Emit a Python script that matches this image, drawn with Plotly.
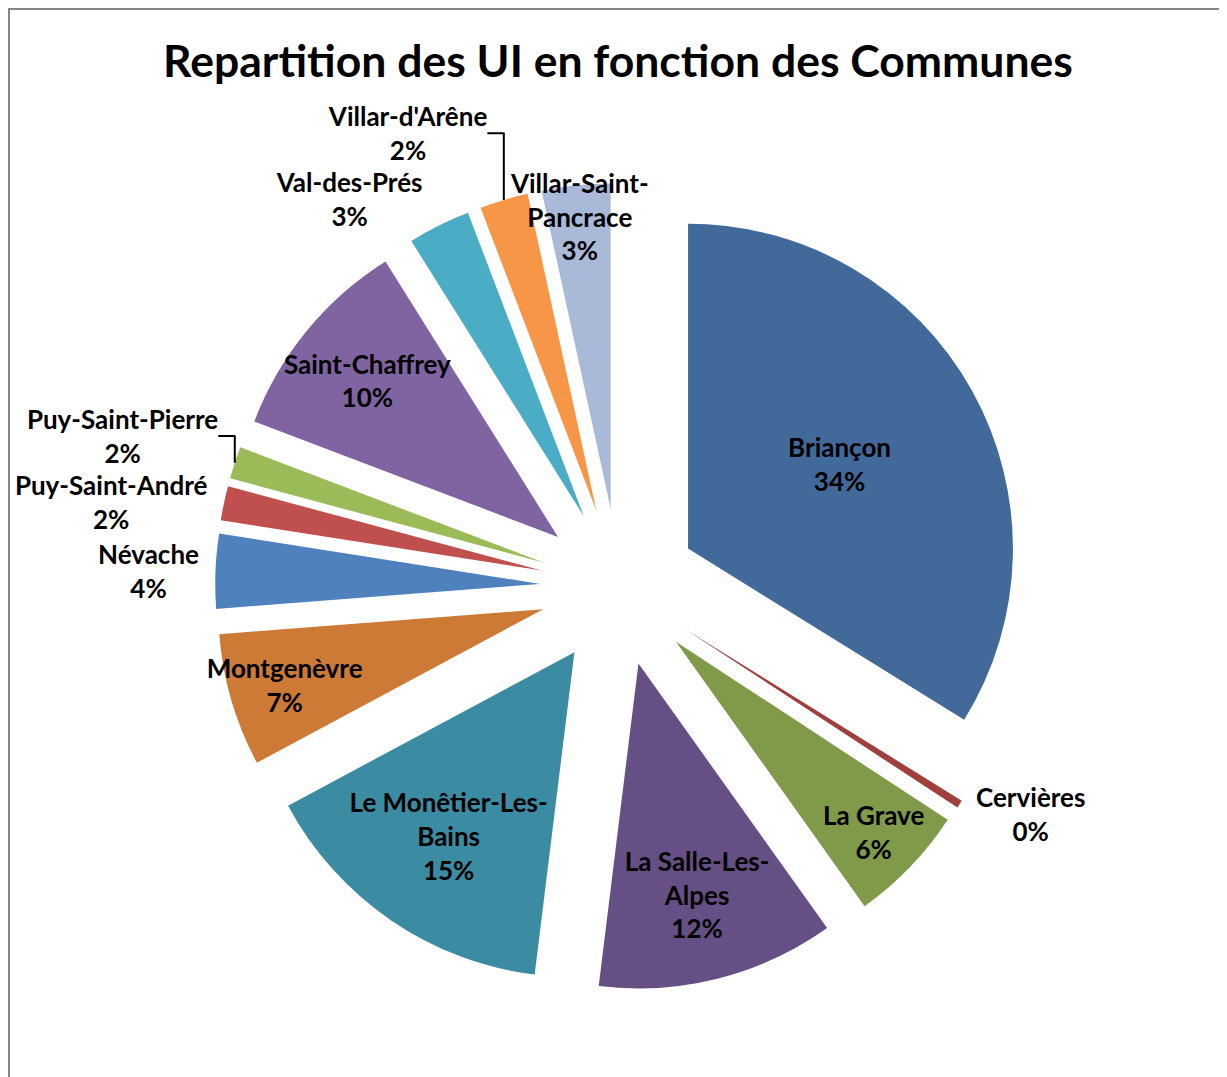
import plotly.graph_objects as go

communes = ["Briançon", "Cervières", "La Grave", "La Salle-Les-Alpes",
            "Le Monêtier-Les-Bains", "Montgenèvre", "Névache", "Puy-Saint-André",
            "Puy-Saint-Pierre", "Saint-Chaffrey", "Val-des-Prés", "Villar-d'Arêne",
            "Villar-Saint-Pancrace"]
display_labels = ["Briançon", "Cervières", "La Grave", "La Salle-Les-<br>Alpes",
                  "Le Monêtier-Les-<br>Bains", "Montgenèvre", "Névache", "Puy-Saint-André",
                  "Puy-Saint-Pierre", "Saint-Chaffrey", "Val-des-Prés", "Villar-d'Arêne",
                  "Villar-Saint-<br>Pancrace"]
values = [33.8, 0.4, 5.9, 11.8, 15.2, 6.6, 3.7, 1.7, 1.6, 10.3, 3.1, 2.4, 3.4]
colors = ["#41699A", "#A0403C", "#7F9A48", "#664F84", "#3B8CA3", "#CC7A36",
          "#4F81BD", "#C0504D", "#9BBB59", "#8064A2", "#4BACC6", "#F79646", "#A9B9D8"]
positions = ["inside", "outside", "inside", "inside", "inside", "inside", "outside",
             "outside", "outside", "inside", "outside", "outside", "inside"]

W, H = 1227, 1077
FONT = "Lato, Carlito, Calibri, sans-serif"
LBL = dict(family=FONT, size=26, color="black", weight="bold")

fig = go.Figure(go.Pie(
    labels=communes,
    values=values,
    text=display_labels,
    texttemplate="%{text}<br>%{percent:.0%}",
    textposition=positions,
    insidetextorientation="horizontal",
    sort=False,
    direction="clockwise",
    rotation=0,
    pull=[0.243] * len(values),
    marker=dict(colors=colors, line=dict(width=0)),
    textfont=LBL,
    insidetextfont=LBL,
    outsidetextfont=LBL,
    automargin=False,
    domain=dict(x=[0.0025, 0.9935], y=[0.0874, 0.8374]),
    showlegend=False,
    hoverinfo="label+percent",
))

fig.update_layout(
    width=W, height=H,
    margin=dict(l=0, r=0, t=0, b=0, autoexpand=False),
    paper_bgcolor="white",
    uniformtext=dict(minsize=26, mode="show"),
    title=dict(text="Repartition des UI en fonction des Communes",
               x=610 / W, xanchor="center", y=1 - 53 / H, yanchor="middle",
               yref="container",
               font=dict(family=FONT, size=44.5, color="black", weight="bold")),
    shapes=[dict(type="rect", xref="paper", yref="paper",
                 x0=1 / W, x1=1.02, y0=-0.02, y1=1 - 1 / H,
                 line=dict(color="#868686", width=2), fillcolor="rgba(0,0,0,0)")],
)

fig.write_html("out.html")
